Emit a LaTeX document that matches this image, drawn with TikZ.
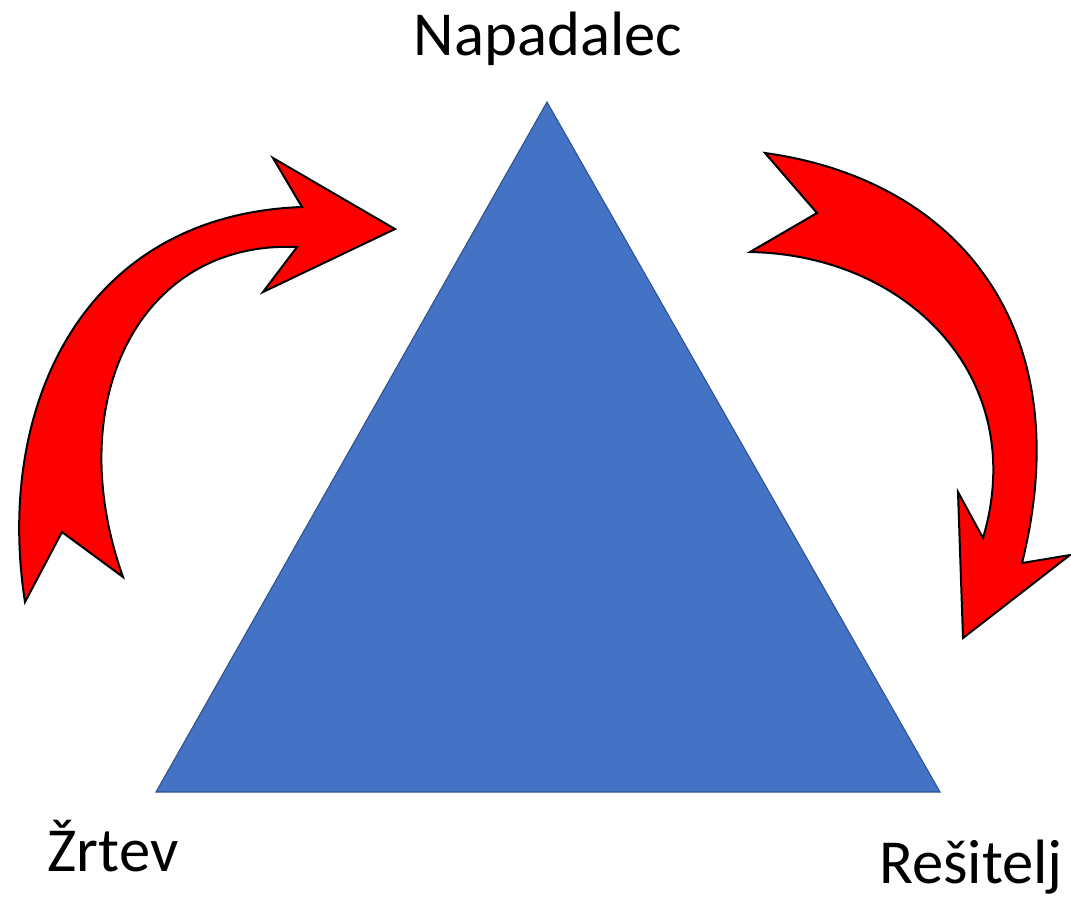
\documentclass[tikz,border=0pt]{standalone}
\usepackage{fontspec}
\setmainfont{Carlito}
\definecolor{triblue}{HTML}{4472C4}
\definecolor{triedge}{HTML}{2F528F}
\begin{document}
\begin{tikzpicture}[x=0.75pt,y=-0.75pt,
  lbl/.style={anchor=base,inner sep=0pt,font=\fontsize{47}{51}\selectfont},
  curvearrow/.style={fill=red,draw=black,line width=1.5pt,line join=miter}]
\useasboundingbox (0,0) rectangle (1071,901);
% triangle
\coordinate (apex) at (547,102);
\coordinate (bl) at (156,792);
\coordinate (br) at (940,792);
\filldraw[fill=triblue,draw=triedge,line width=0.8pt] (apex) -- (br) -- (bl) -- cycle;
% labels
\node[lbl] (nap) at (548,55) {Napadalec};
\node[lbl] (zrt) at (113,871) {Žrtev};
\node[lbl] (res) at (971,883) {Rešitelj};
% left curved arrow
\draw[curvearrow] (25,602) .. controls (-5,410) and (80,215) .. (302,207)
  -- (273,158) -- (395,229) -- (263,292) -- (297,247)
  .. controls (140,240) and (60,400) .. (123,577)
  -- (62,532) -- cycle;
% right curved arrow
\draw[curvearrow] (765,153) .. controls (960,180) and (1080,330) .. (1022,563)
  -- (1070,555) -- (963,638) -- (958,492) -- (983,538)
  .. controls (1030,380) and (910,255) .. (750,252)
  -- (817,213) -- cycle;
\end{tikzpicture}
\end{document}
